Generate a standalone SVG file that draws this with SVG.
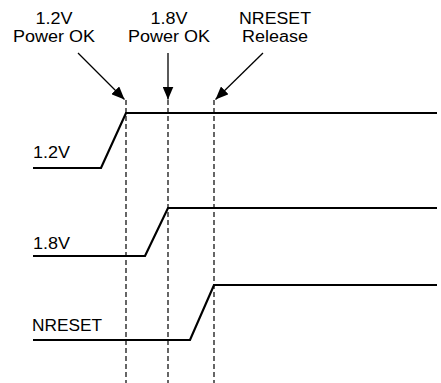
<svg xmlns="http://www.w3.org/2000/svg" width="441" height="383" viewBox="0 0 441 383">
<style>
text{font-family:"Liberation Sans",Arial,sans-serif;font-size:16px;fill:#000}
.c{text-anchor:middle}
.sig{fill:none;stroke:#000;stroke-width:2.2;stroke-linejoin:miter}
.dash{stroke:#000;stroke-width:1.2;stroke-dasharray:5 3;fill:none}
.arr{stroke:#000;stroke-width:1.3;fill:none}
</style>
<defs>
<marker id="ah" viewBox="0 0 13 11" refX="13" refY="5.5" markerWidth="13" markerHeight="11" markerUnits="userSpaceOnUse" orient="auto">
<path d="M0,0 L13,5.5 L0,11 Z" fill="#000"/>
</marker>
</defs>
<g id="markers">
<line class="dash" x1="126" y1="100" x2="126" y2="383"/>
<line class="dash" x1="168" y1="100" x2="168" y2="383"/>
<line class="dash" x1="214" y1="100" x2="214" y2="383"/>
</g>
<g id="connectors">
<line class="arr" x1="78" y1="53" x2="124.5" y2="99.5" marker-end="url(#ah)"/>
<line class="arr" x1="168" y1="53" x2="168" y2="99.5" marker-end="url(#ah)"/>
<line class="arr" x1="263" y1="53" x2="215.5" y2="99.5" marker-end="url(#ah)"/>
</g>
<g id="label-12-ok">
<text class="c" x="54" y="24" textLength="37" lengthAdjust="spacingAndGlyphs">1.2V</text>
<text class="c" x="54" y="42" textLength="82" lengthAdjust="spacingAndGlyphs">Power OK</text>
</g>
<g id="label-18-ok">
<text class="c" x="169" y="24" textLength="37" lengthAdjust="spacingAndGlyphs">1.8V</text>
<text class="c" x="169" y="42" textLength="82" lengthAdjust="spacingAndGlyphs">Power OK</text>
</g>
<g id="label-nreset">
<text class="c" x="275" y="24" textLength="72" lengthAdjust="spacingAndGlyphs">NRESET</text>
<text class="c" x="275" y="42" textLength="66" lengthAdjust="spacingAndGlyphs">Release</text>
</g>
<g id="sig-12">
<text x="33" y="158" textLength="37" lengthAdjust="spacingAndGlyphs">1.2V</text>
<polyline class="sig" points="33,168 101,168 126,113 437,113"/>
</g>
<g id="sig-18">
<text x="33" y="249" textLength="37" lengthAdjust="spacingAndGlyphs">1.8V</text>
<polyline class="sig" points="33,256 145,256 168,208 437,208"/>
</g>
<g id="sig-nreset">
<text x="32" y="331" textLength="70" lengthAdjust="spacingAndGlyphs">NRESET</text>
<polyline class="sig" points="33,340 190,340 214,285 437,285"/>
</g>
</svg>
